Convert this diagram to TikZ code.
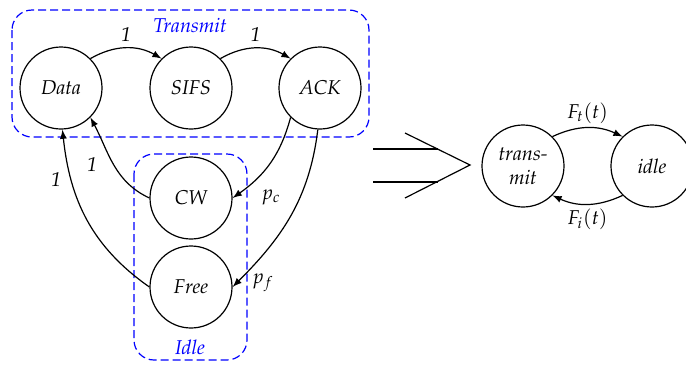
\documentclass[tikz,border=0pt]{standalone}
\usepackage[T1]{fontenc}
\usepackage[sc]{mathpazo}
\usetikzlibrary{shapes}
\usetikzlibrary{arrows}
\usetikzlibrary{positioning}

\tikzset{
  state/.style={draw,circle,minimum size=41pt,inner sep=0pt,font=\itshape,align=center},
  group/.style={draw=blue,dash pattern=on 4pt off 2pt,rounded corners=10pt},
  grouplabel/.style={text=blue,font=\itshape},
  trans/.style={->,>=latex},
  prob/.style={font=\itshape,inner sep=1pt}
}

\begin{document}
\begin{tikzpicture}[x=0.5pt,y=-0.5pt,line width=0.6pt]
\useasboundingbox (0,0) rectangle (686,365);
% groups
\draw[group] (12,10) rectangle (369,137);
\draw[group] (134,154) rectangle (247,360);
\node[grouplabel] (ltx) at (190,25) {Transmit};
\node[grouplabel] (lidle) at (190,347) {Idle};
% states
\node[state] (data) at (61,88) {Data};
\node[state] (sifs) at (191,88) {SIFS};
\node[state] (ack) at (320,88) {ACK};
\node[state] (cw) at (191,198) {CW};
\node[state] (free) at (191,287) {Free};
% transitions
\draw[trans] (data.45) to[out=30,in=150] node[prob,above=2pt] {1} (sifs.135);
\draw[trans] (sifs.45) to[out=30,in=150] node[prob,above=2pt] {1} (ack.135);
\draw[trans] (ack.225) to[out=255,in=35] (cw.east);
\draw[trans] (ack.-93) to[out=-97,in=45] (free.east);
\draw[trans] (cw.west) to[out=155,in=-62] (data.-45);
\draw[trans] (free.west) to[out=145,in=-84] (data.-88);
\node (pc) at (271,197) {$p_c$};
\node (pf) at (263,283) {$p_f$};
\node[prob] (one1) at (92,165) {1};
\node[prob] (one2) at (56,180) {1};
% big arrow
\draw (373,149) -- (438,149);
\draw (373,182) -- (438,182);
\draw (405,133) -- (470,165) -- (405,198);
% reduced model
\node[state] (tx) at (523,166) {trans-\\mit};
\node[state] (idle) at (652,166) {idle};
\draw[trans] (tx.45) to[out=25,in=155] node[prob,above=1pt] {$F_t(t)$} (idle.135);
\draw[trans] (idle.-135) to[out=-155,in=-25] node[prob,below=1pt] {$F_i(t)$} (tx.-45);
\end{tikzpicture}
\end{document}
